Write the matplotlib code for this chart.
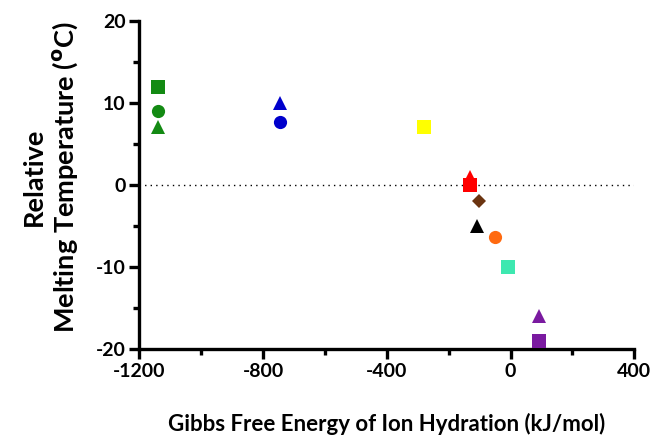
import matplotlib
matplotlib.use('Agg')
import matplotlib.pyplot as plt
from matplotlib.ticker import MultipleLocator

plt.rcParams['font.family'] = ['Lato', 'DejaVu Sans']
plt.rcParams['axes.unicode_minus'] = False

# 每个离子的数据: (x, y, 标记, 颜色)
gibbs = [-1140, -1140, -1140, -744, -744, -281, -132, -132, -102, -108, -51, -8, 92, 92]
tm_shift = [12, 9, 7, 10, 7.7, 7, 1, 0, -2, -5, -6.3, -10, -16, -19]
markers = ['s', 'o', '^', '^', 'o', 's', '^', 's', 'D', '^', 'o', 's', '^', 's']
colors = ['#138a13', '#138a13', '#138a13', '#0000cc', '#0000cc', '#ffff00',
          '#ff0000', '#ff0000', '#6b3410', '#000000', '#ff6a10', '#3de8b0',
          '#7a1aa0', '#7a1aa0']

xticks = [-1200, -800, -400, 0, 400]
yticks = [-20, -10, 0, 10, 20]

fig = plt.figure(figsize=(6.54, 4.36), dpi=100)
ax = fig.add_axes([0.213, 0.2, 0.757, 0.752])

ax.plot([-1200, 400], [0, 0], color='black', linestyle=(0, (1, 3)), linewidth=1.0, zorder=1)

for x, y, m, c in zip(gibbs, tm_shift, markers, colors):
    size = 9.5 if m in ('s', 'o', '^') else 7
    ax.plot(x, y, marker=m, color=c, markersize=size, linestyle='none',
            markeredgewidth=0, zorder=3)

ax.set_xlim(-1200, 400)
ax.set_ylim(-20, 20)
ax.set_xticks(xticks)
ax.set_yticks(yticks)
ax.xaxis.set_minor_locator(MultipleLocator(200))
ax.yaxis.set_minor_locator(MultipleLocator(5))

for s in ['top', 'right']:
    ax.spines[s].set_visible(False)
for s in ['left', 'bottom']:
    ax.spines[s].set_linewidth(2.4)

ax.tick_params(which='major', direction='out', length=7, width=2.4, labelsize=14, pad=3)
ax.tick_params(which='minor', direction='out', length=4.5, width=2.4)
for lab in ax.get_xticklabels() + ax.get_yticklabels():
    lab.set_fontweight('bold')

ax.set_xlabel('Gibbs Free Energy of Ion Hydration (kJ/mol)', fontsize=16,
              fontweight='bold', labelpad=24)
ax.set_ylabel('Relative\nMelting Temperature ($\\mathbf{^{o}}$C)', fontsize=19.5,
              fontweight='bold', linespacing=1.2)
ax.yaxis.set_label_coords(-0.12, 0.525)

plt.savefig('out.png', dpi=100)
plt.close(fig)
